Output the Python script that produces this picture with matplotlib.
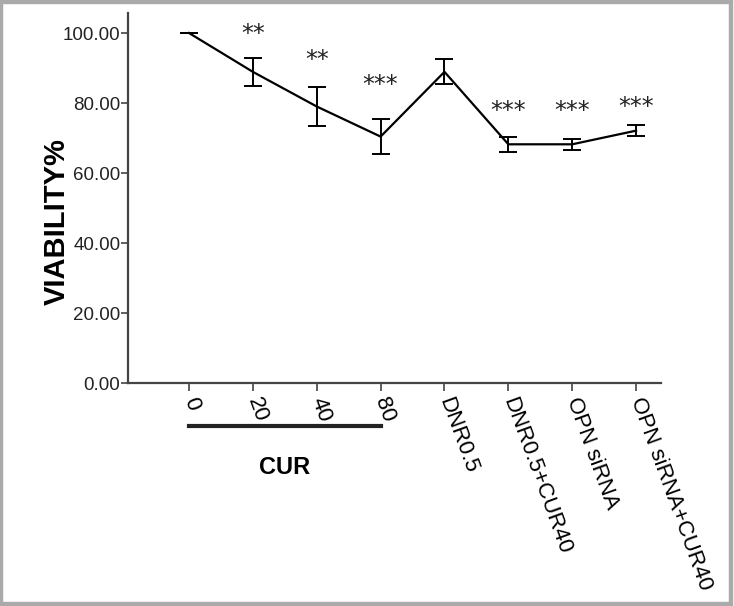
import matplotlib
matplotlib.use("Agg")
import matplotlib.pyplot as plt
from matplotlib.patches import Rectangle
from matplotlib.lines import Line2D

categories = ["0", "20", "40", "80", "DNR0.5", "DNR0.5+CUR40", "OPN siRNA", "OPN siRNA+CUR40"]
viability = [100.0, 88.9, 79.0, 70.4, 88.9, 68.2, 68.2, 72.1]
errors = [0.0, 4.0, 5.7, 5.1, 3.6, 2.2, 1.5, 1.5]
stars = ["", "**", "**", "***", "", "***", "***", "***"]
star_y = [None, 101.1, 93.7, 86.6, None, 79.1, 79.1, 80.3]
yticks = [0, 20, 40, 60, 80, 100]
group_label = "CUR"

W, H = 734, 606
fig = plt.figure(figsize=(W / 100, H / 100), dpi=100)
plt.rcParams['font.family'] = ['Liberation Sans', 'DejaVu Sans']

ax_left, ax_right, ax_bottom, ax_top = 128, 661, 383, 12.7
ax = fig.add_axes([ax_left / W, 1 - ax_bottom / H, (ax_right - ax_left) / W, (ax_bottom - ax_top) / H])

x = list(range(1, len(categories) + 1))
ax.errorbar(x, viability, yerr=errors, color='black', lw=1.6, elinewidth=1.4,
            capsize=6.5, capthick=1.4)

ax.set_xlim(0.045, 8.39)
ax.set_ylim(0, 105.8)
ax.set_yticks(yticks)
ax.set_yticklabels([f"{v:.2f}" for v in yticks], fontsize=13.5, color='#222222')
ax.set_xticks(x)
ax.set_xticklabels(categories, rotation=-70, ha='left', va='center',
                   rotation_mode='anchor', fontsize=16)
ax.tick_params(axis='y', length=5, width=1.2, color='#444444', pad=0.5)
ax.tick_params(axis='x', length=6, width=1.2, color='#444444', pad=5)
for s in ['top', 'right']:
    ax.spines[s].set_visible(False)
for s in ['left', 'bottom']:
    ax.spines[s].set_color('#444444')
    ax.spines[s].set_linewidth(1.6)

ax.set_ylabel("VIABILITY%", fontsize=21, fontweight='bold')
ax.yaxis.set_label_coords((71 - ax_left) / (ax_right - ax_left), (ax_bottom - 222) / (ax_bottom - ax_top))

for xi, s, sy in zip(x, stars, star_y):
    if s:
        ax.annotate(s, (xi, sy), xytext=(0, -2), textcoords='offset points',
                    ha='center', va='center_baseline', fontsize=17, color='#222222',
                    family='DejaVu Sans')

# CUR group bar below the first four ticks
trans = ax.get_xaxis_transform()
bar_y = 1 - (425.7 - ax_top) / (ax_bottom - ax_top)
ax.add_line(Line2D([x[0], x[3]], [bar_y, bar_y], transform=trans, color='#222222',
                   lw=3, clip_on=False))
ax.text((x[0] + x[3]) / 2, 1 - (467 - ax_top) / (ax_bottom - ax_top), group_label,
        transform=trans, ha='center', va='center', fontsize=17, fontweight='bold')

# grey frame
fig.patches.append(Rectangle((1.5 / W, 2 / H), 1 - 4.5 / W, 1 - 3.5 / H, transform=fig.transFigure,
                             fill=False, edgecolor='#aaaaaa', lw=3.2))

fig.savefig("out.png", dpi=100)
